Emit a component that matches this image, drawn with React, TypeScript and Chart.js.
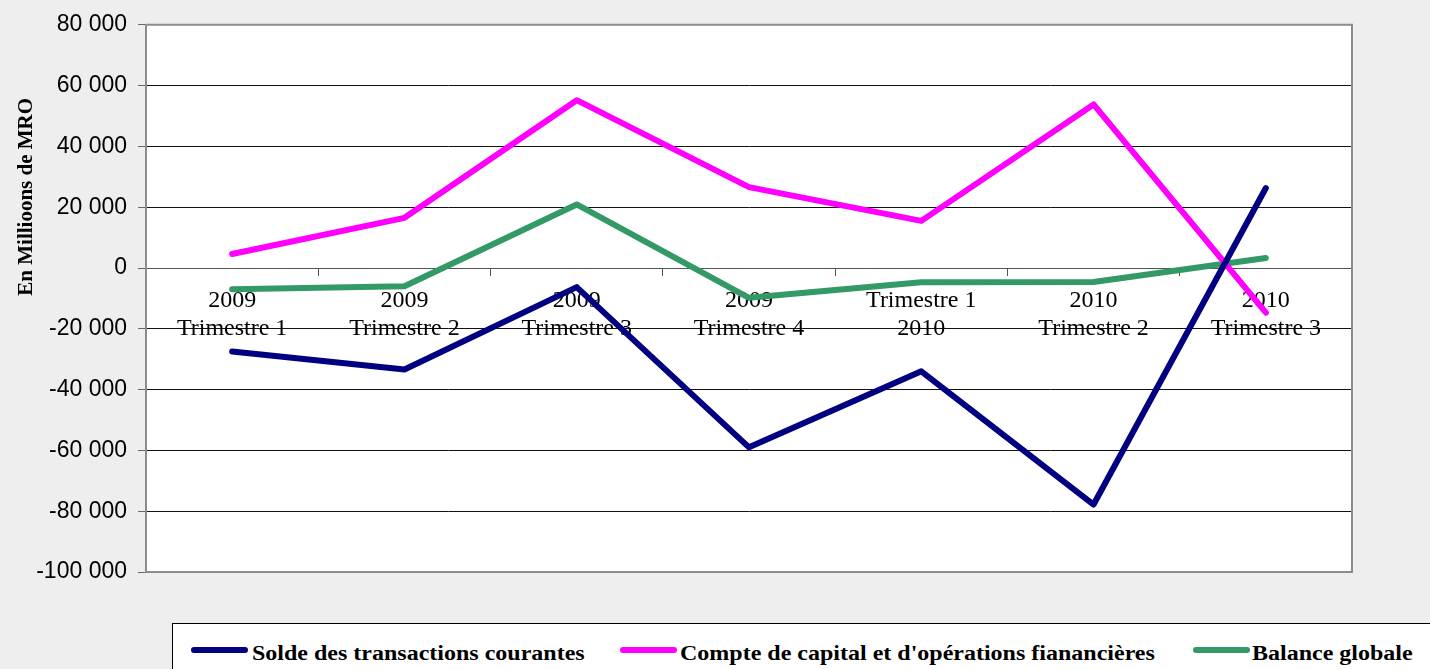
import React, { useEffect, useRef } from "react";
import { Chart, registerables } from "chart.js";

Chart.register(...registerables);

// ---- data ----
const categories: string[][] = [
  ["2009", "Trimestre 1"],
  ["2009", "Trimestre 2"],
  ["2009", "Trimestre 3"],
  ["2009", "Trimestre 4"],
  ["Trimestre 1", "2010"],
  ["2010", "Trimestre 2"],
  ["2010", "Trimestre 3"],
];
const soldeTransactions = [-27500, -33400, -6300, -59000, -34000, -77800, 26300];
const compteCapital = [4600, 16500, 55200, 26600, 15500, 53800, -14700];
const balanceGlobale = [-7000, -6000, 20900, -9800, -4700, -4600, 3300];
const seriesNames = [
  "Solde des transactions courantes",
  "Compte de capital et d'opérations fianancières",
  "Balance globale",
];
const seriesColors = ["#000080", "#FF00FF", "#339966"];
const yTitle = "En Millioons de MRO";
const yMin = -100000;
const yMax = 80000;
const yStep = 20000;

const SERIF = "'Liberation Serif', 'Times New Roman', serif";
const SANS = "'Liberation Sans', Arial, sans-serif";

const fmt = (v: number) => {
  const s = Math.abs(v)
    .toString()
    .replace(/\B(?=(\d{3})+(?!\d))/g, " ");
  return (v < 0 ? "-" : "") + s;
};

const framePlugin = {
  id: "frame",
  beforeDraw(chart: any) {
    const { ctx, chartArea: a } = chart;
    ctx.save();
    ctx.fillStyle = "#ffffff";
    ctx.fillRect(a.left, a.top, a.right - a.left, a.bottom - a.top);
    ctx.restore();
  },
  beforeDatasetsDraw(chart: any) {
    const { ctx, chartArea: a } = chart;
    ctx.save();
    ctx.strokeStyle = "#8c8c8c";
    ctx.lineWidth = 2;
    ctx.beginPath();
    ctx.moveTo(a.left, a.top);
    ctx.lineTo(a.right, a.top);
    ctx.lineTo(a.right, a.bottom);
    ctx.lineTo(a.left, a.bottom);
    ctx.stroke();
    // y axis title
    ctx.translate(a.left - 114, a.top + 172);
    ctx.rotate(-Math.PI / 2);
    ctx.fillStyle = "#000";
    ctx.font = `bold 21px ${SERIF}`;
    ctx.textAlign = "center";
    ctx.textBaseline = "alphabetic";
    ctx.fillText(yTitle, 0, 0);
    ctx.restore();
  },
};

const markerLefts = [191, 620, 1193];
const textLefts = [252, 680, 1252];

export default function App() {
  const ref = useRef<HTMLCanvasElement | null>(null);

  useEffect(() => {
    if (!ref.current) return;
    const seriesData = [soldeTransactions, compteCapital, balanceGlobale];
    const chart = new Chart(ref.current, {
      type: "line",
      data: {
        labels: categories,
        datasets: seriesData.map((d, i) => ({
          label: seriesNames[i],
          data: d,
          borderColor: seriesColors[i],
          backgroundColor: seriesColors[i],
          borderWidth: 6,
          pointRadius: 0,
          pointHoverRadius: 0,
          tension: 0,
          fill: false,
          borderJoinStyle: "round" as const,
          borderCapStyle: "round" as const,
        })),
      },
      options: {
        animation: false,
        responsive: false,
        maintainAspectRatio: false,
        layout: { padding: { left: 0, top: 22, right: 78, bottom: 97 } },
        plugins: {
          legend: { display: false },
          tooltip: { enabled: false },
          title: { display: false },
        },
        scales: {
          x: {
            type: "category",
            offset: true,
            position: { y: 0 } as any,
            grid: {
              display: true,
              drawOnChartArea: false,
              drawTicks: true,
              tickLength: 7,
              offset: true,
              color: "#555",
              tickColor: "#555",
            },
            border: { display: true, color: "#555", width: 1 },
            ticks: {
              autoSkip: false,
              maxRotation: 0,
              minRotation: 0,
              padding: 12,
              color: "#000",
              font: { family: SERIF, size: 24, lineHeight: 28 / 24 },
            },
          },
          y: {
            position: "left",
            min: yMin,
            max: yMax,
            ticks: {
              stepSize: yStep,
              padding: 11,
              color: "#000",
              font: { family: SANS, size: 23 },
              callback: (v: any) => fmt(Number(v)),
            },
            grid: { color: "#111", lineWidth: 1, tickLength: 8, tickColor: "#666" },
            border: { display: true, color: "#8c8c8c", width: 2 },
            afterFit: (scale: any) => {
              scale.width = 146;
            },
          },
        },
      },
      plugins: [framePlugin],
    });
    return () => chart.destroy();
  }, []);

  return (
    <div
      style={{
        position: "fixed",
        left: 0,
        top: 0,
        width: 1430,
        height: 669,
        background: "#eeeeee",
        overflow: "hidden",
      }}
    >
      <canvas
        ref={ref}
        width={1430}
        height={669}
        style={{ position: "absolute", left: 0, top: 0, width: 1430, height: 669 }}
      />
      <div
        style={{
          position: "absolute",
          left: 172,
          top: 623,
          width: 1300,
          height: 100,
          background: "#ffffff",
          border: "1px solid #000",
          boxSizing: "border-box",
        }}
      />
      {seriesNames.map((name, i) => (
        <React.Fragment key={name}>
          <div
            style={{
              position: "absolute",
              left: markerLefts[i],
              top: 647,
              width: 57,
              height: 6,
              borderRadius: 3,
              background: seriesColors[i],
            }}
          />
          <div
            style={{
              position: "absolute",
              left: textLefts[i],
              top: 640,
              fontFamily: SERIF,
              fontWeight: "bold",
              fontSize: 24,
              lineHeight: "24px",
              whiteSpace: "nowrap",
              color: "#000",
              transform: "scaleY(0.88)",
              transformOrigin: "0 20px",
            }}
          >
            {name}
          </div>
        </React.Fragment>
      ))}
    </div>
  );
}
